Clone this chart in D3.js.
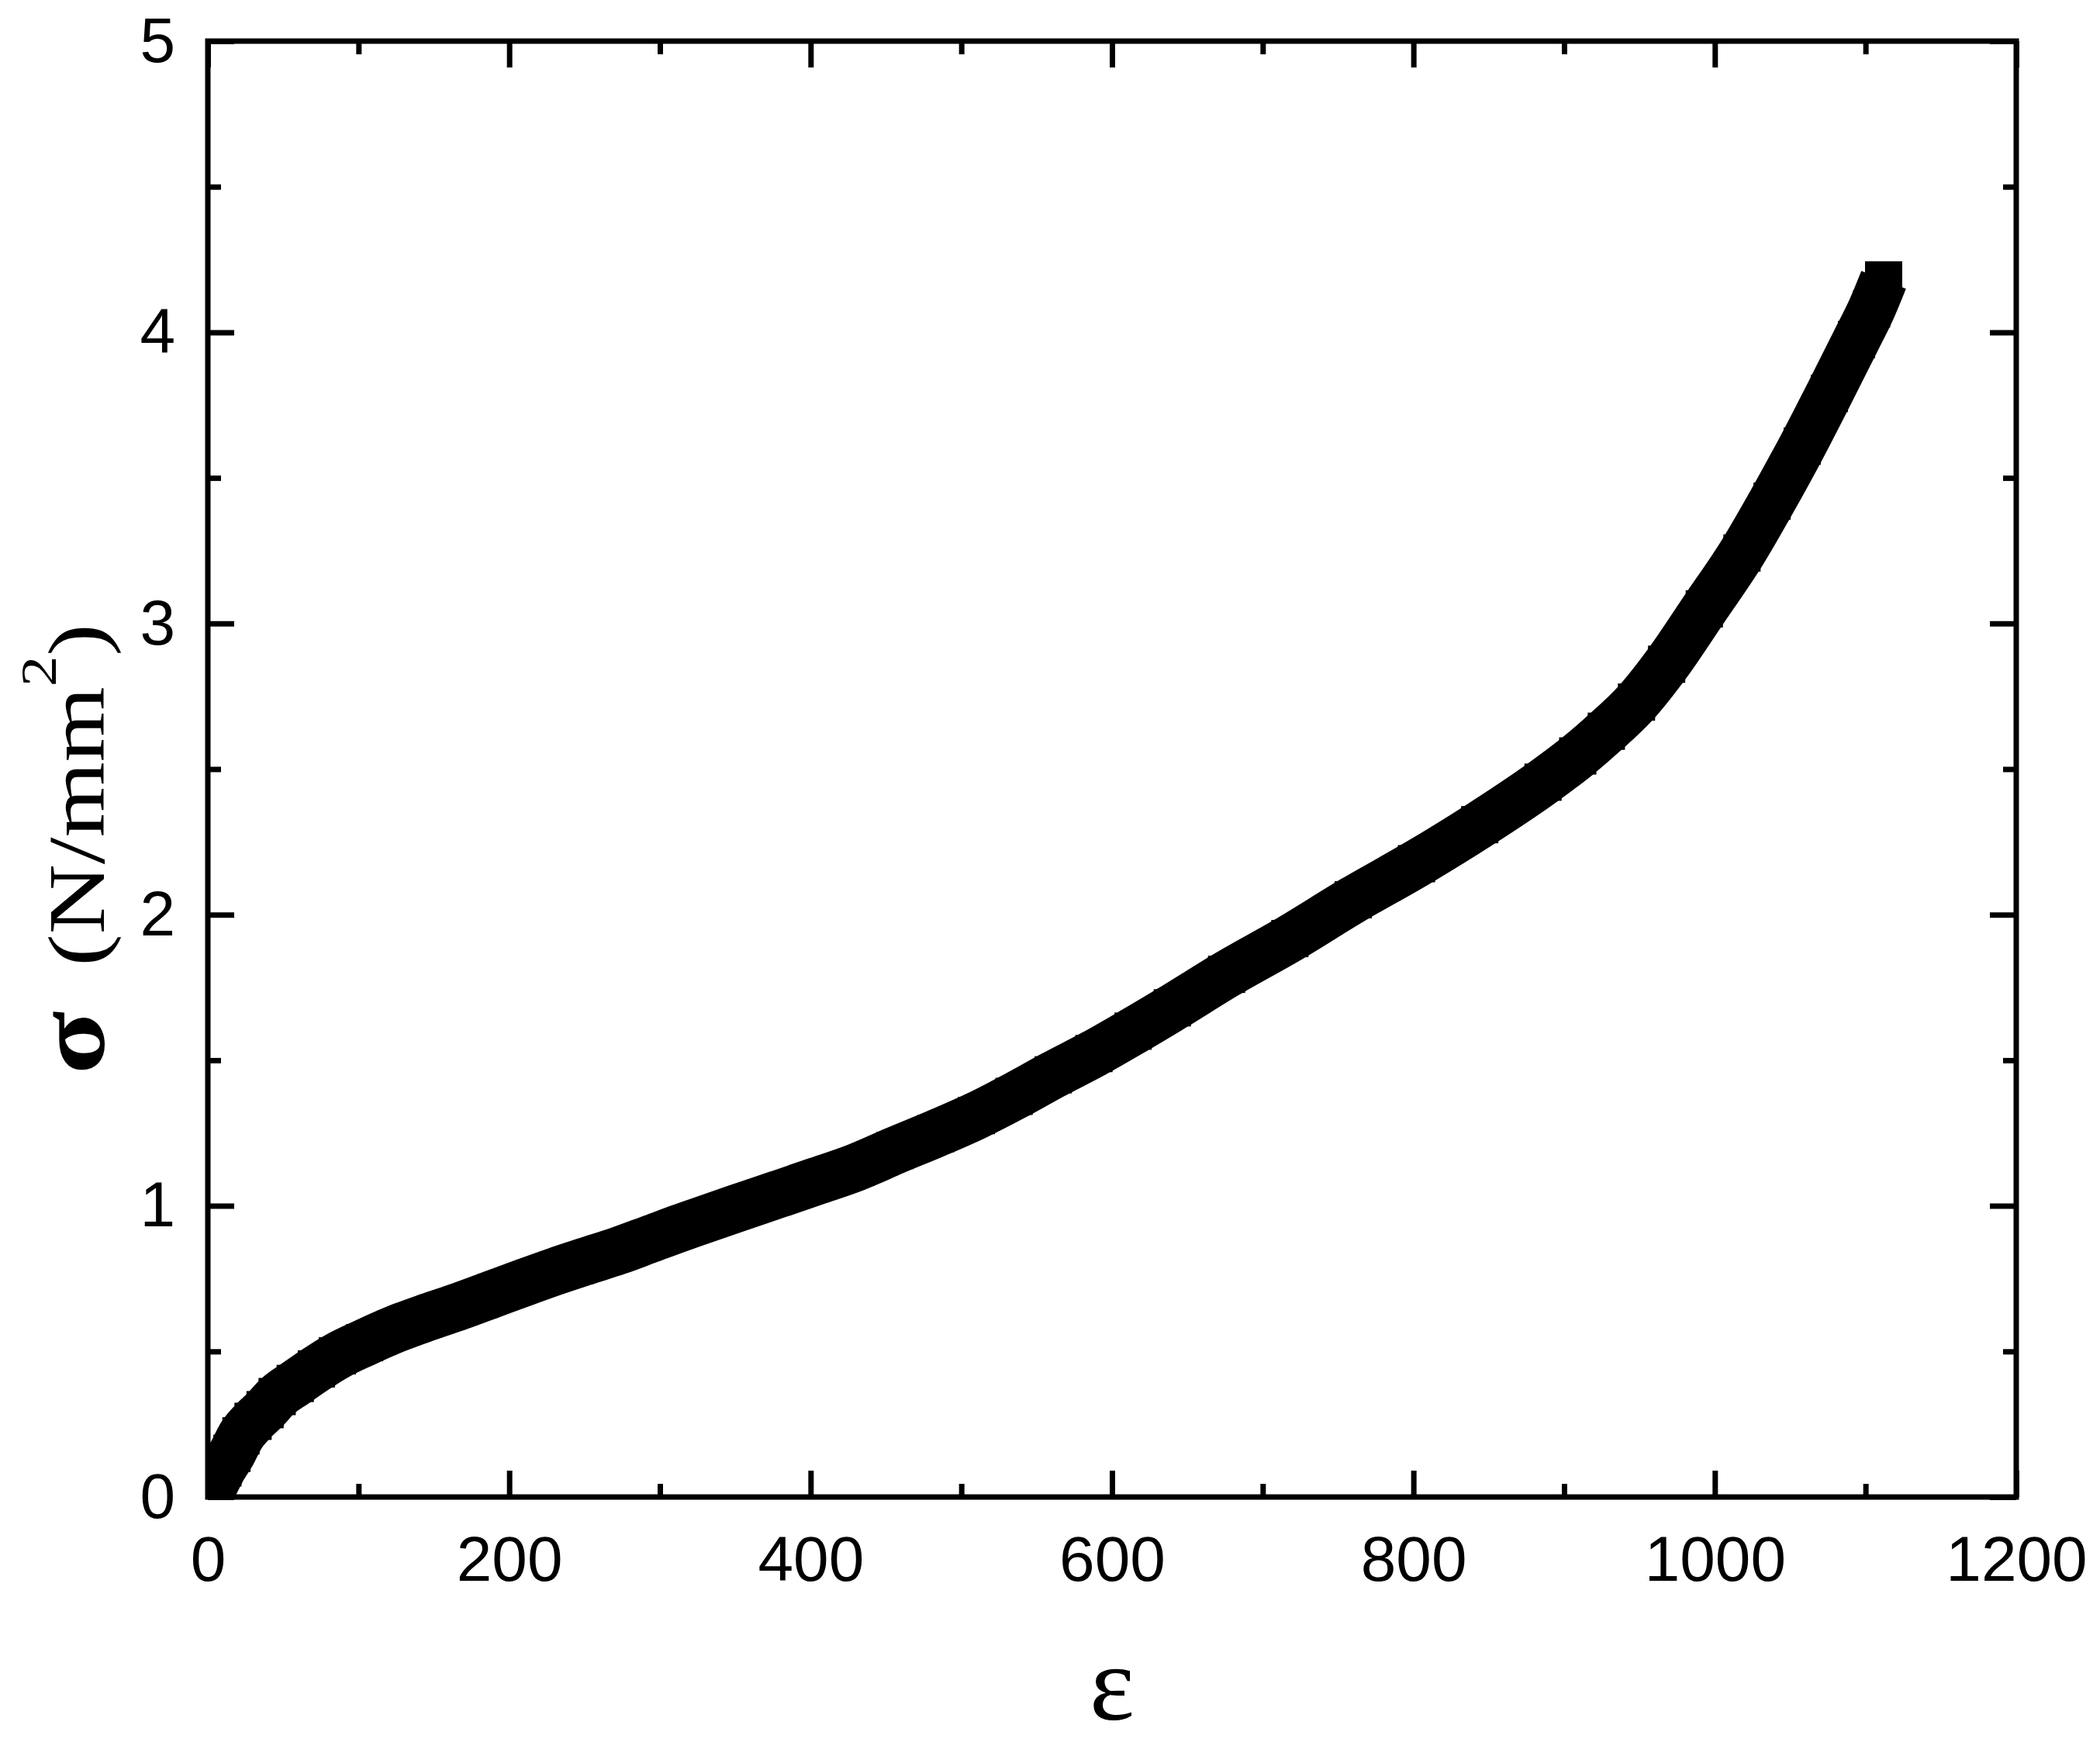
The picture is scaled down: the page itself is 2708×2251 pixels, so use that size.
<!DOCTYPE html>
<html>
<head>
<meta charset="utf-8">
<script src="https://cdn.jsdelivr.net/npm/d3@7"></script>
<style>
    body { margin: 0; background: #ffffff; }
    .tick text { font-family: "Liberation Sans", Arial, sans-serif; font-size: 82px; fill: #000; }
    .tick line { stroke: #000; stroke-width: 7px; }
    .domain { display: none; }
    .label { font-family: "Liberation Serif", "Times New Roman", serif; fill: #000; }
</style>
</head>
<body>
<svg id="chart" width="2708" height="2251"></svg>
<script>
// Strain (epsilon) and stress (sigma, N/mm2)
var strain = [0, 5, 10, 16, 22, 30, 38, 46, 58, 72, 86, 104, 125, 146, 167, 188, 210, 230, 251, 272,
    293, 314, 325, 350, 378, 404, 430, 456, 483, 510, 535, 561, 588, 614, 640, 676, 718, 760, 802, 844,
    886, 909, 928, 948, 968, 993, 1018, 1038, 1058, 1076, 1094, 1104, 1112];
var stress = [0.00, 0.05, 0.10, 0.15, 0.21, 0.26, 0.30, 0.345, 0.39, 0.44, 0.485, 0.53, 0.578, 0.618, 0.655, 0.695, 0.737, 0.774, 0.81, 0.845,
    0.885, 0.925, 0.945, 0.99, 1.039, 1.085, 1.132, 1.19, 1.248, 1.31, 1.376, 1.45, 1.523, 1.60, 1.68, 1.795, 1.918, 2.051, 2.175, 2.309,
    2.455, 2.545, 2.63, 2.73, 2.86, 3.05, 3.242, 3.42, 3.609, 3.79, 3.975, 4.08, 4.18];

// Tick values
var xMajor = [0, 200, 400, 600, 800, 1000, 1200];
var xMinor = [100, 300, 500, 700, 900, 1100];
var yMajor = [0, 1, 2, 3, 4, 5];
var yMinor = [0.5, 1.5, 2.5, 3.5, 4.5];

var padding = { top: 53, right: 108, bottom: 321, left: 268 };
var svgWidth = 2708;
var svgHeight = 2251;
var chartWidth = svgWidth - padding.left - padding.right;
var chartHeight = svgHeight - padding.top - padding.bottom;

var majorLen = 34;
var minorLen = 17;
var markerSize = 48;

var svg = d3.select("#chart");

var xScale = d3.scaleLinear()
    .domain([0, 1200])
    .range([padding.left, padding.left + chartWidth]);

var yScale = d3.scaleLinear()
    .domain([0, 5])
    .range([padding.top + chartHeight, padding.top]);

var points = strain.map(function(e, i) {
    return { x: e, y: stress[i] };
});

// Clip the data to the plotting frame
svg.append("clipPath")
    .attr("id", "plotClip")
    .append("rect")
    .attr("x", padding.left)
    .attr("y", padding.top)
    .attr("width", chartWidth)
    .attr("height", chartHeight);

var plot = svg.append("g").attr("clip-path", "url(#plotClip)");

// Thick band joining the square markers
var line = d3.line()
    .x(function(d) { return xScale(d.x); })
    .y(function(d) { return yScale(d.y); })
    .curve(d3.curveMonotoneX);

plot.append("path")
    .datum(points)
    .attr("d", line)
    .attr("fill", "none")
    .attr("stroke", "#000")
    .attr("stroke-width", 62)
    .attr("stroke-linejoin", "round");

// Square markers
plot.selectAll(".marker")
    .data(points)
    .enter()
    .append("rect")
    .attr("class", "marker")
    .attr("x", function(d) { return xScale(d.x) - markerSize / 2; })
    .attr("y", function(d) { return yScale(d.y) - markerSize / 2; })
    .attr("width", markerSize)
    .attr("height", markerSize)
    .attr("fill", "#000");

// Bottom axis with labels, ticks pointing inward
svg.append("g")
    .attr("transform", `translate(0, ${padding.top + chartHeight})`)
    .call(d3.axisBottom(xScale).tickValues(xMajor).tickSize(-majorLen).tickPadding(50).tickFormat(d3.format("d")));
svg.append("g")
    .attr("transform", `translate(0, ${padding.top + chartHeight})`)
    .call(d3.axisBottom(xScale).tickValues(xMinor).tickSize(-minorLen).tickFormat(""));

// Top axis
svg.append("g")
    .attr("transform", `translate(0, ${padding.top})`)
    .call(d3.axisTop(xScale).tickValues(xMajor).tickSize(-majorLen).tickFormat(""));
svg.append("g")
    .attr("transform", `translate(0, ${padding.top})`)
    .call(d3.axisTop(xScale).tickValues(xMinor).tickSize(-minorLen).tickFormat(""));

// Left axis with labels
svg.append("g")
    .attr("transform", `translate(${padding.left}, 0)`)
    .call(d3.axisLeft(yScale).tickValues(yMajor).tickSize(-majorLen).tickPadding(42).tickFormat(d3.format("d")));
svg.append("g")
    .attr("transform", `translate(${padding.left}, 0)`)
    .call(d3.axisLeft(yScale).tickValues(yMinor).tickSize(-minorLen).tickFormat(""));

// Right axis
svg.append("g")
    .attr("transform", `translate(${padding.left + chartWidth}, 0)`)
    .call(d3.axisRight(yScale).tickValues(yMajor).tickSize(-majorLen).tickFormat(""));
svg.append("g")
    .attr("transform", `translate(${padding.left + chartWidth}, 0)`)
    .call(d3.axisRight(yScale).tickValues(yMinor).tickSize(-minorLen).tickFormat(""));

// Frame
svg.append("rect")
    .attr("x", padding.left)
    .attr("y", padding.top)
    .attr("width", chartWidth)
    .attr("height", chartHeight)
    .attr("fill", "none")
    .attr("stroke", "#000")
    .attr("stroke-width", 7);

// x label
svg.append("text")
    .attr("class", "label")
    .attr("x", padding.left + chartWidth / 2)
    .attr("y", 2217)
    .attr("text-anchor", "middle")
    .attr("font-size", 138)
    .text("ε");

// y label (glyphs are stretched along the text direction in the original)
var yLabel = svg.append("text")
    .attr("class", "label")
    .attr("transform", "translate(134, 1385) rotate(-90) scale(1.2, 1)")
    .attr("text-anchor", "start")
    .attr("font-size", 104);
yLabel.append("tspan").attr("font-weight", "bold").attr("font-size", 125).text("σ");
yLabel.append("tspan").attr("dx", 22).text(" (N/mm");
yLabel.append("tspan").attr("font-size", 66).attr("dy", -62).text("2");
yLabel.append("tspan").attr("dy", 62).text(")");
</script>
</body>
</html>
